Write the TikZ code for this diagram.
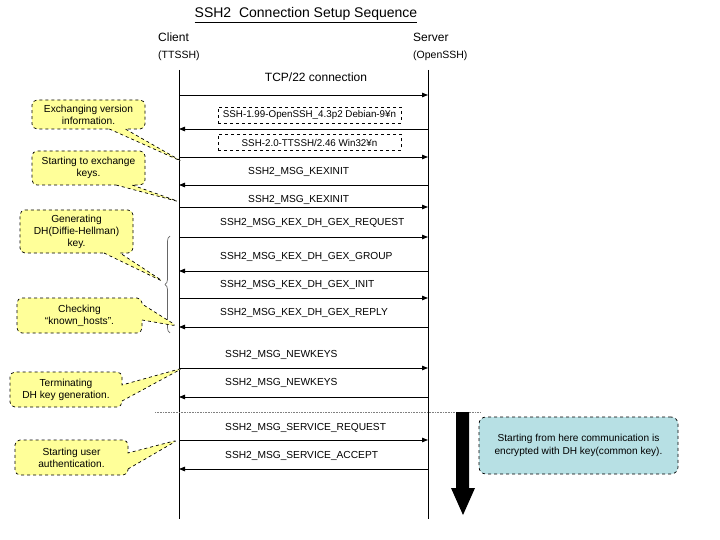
\documentclass[tikz,border=0pt]{standalone}
\usepackage{fontspec}
\setmainfont{Liberation Sans}
\usetikzlibrary{arrows.meta,shapes.callouts,decorations.pathreplacing}
\definecolor{noteyellow}{RGB}{255,255,153}
\definecolor{noteteal}{RGB}{183,224,228}
\begin{document}
\begin{tikzpicture}[x=1pt,y=-1pt]
		\tikzstyle{msg}=[font=\fontsize{10.2}{12}\selectfont,anchor=west,inner sep=0pt]
		\tikzstyle{edge}=[draw, line width=0.8pt, -{Triangle[length=6pt,width=4.5pt]}]
		\tikzstyle{lifeline}=[draw, line width=0.8pt]
		\tikzstyle{strbox}=[draw,dashed,line width=0.6pt,font=\fontsize{9.8}{12}\selectfont,minimum width=183pt,minimum height=16pt,inner sep=0pt]
		\tikzstyle{note}=[rectangle callout,draw,dashed,line width=0.7pt,fill=noteyellow,rounded corners=5pt,align=center,font=\fontsize{10.2}{12}\selectfont,inner sep=0pt,minimum width=113pt,callout pointer width=16pt]
		\useasboundingbox (0,0) rectangle (720,540);
		\begin{scope}
			% heading and lifelines
			\node (title) at (306,15) {\fontsize{14}{16}\selectfont\underline{SSH2\ \ Connection Setup Sequence}};
			\node [anchor=west,inner sep=0pt,font=\fontsize{12}{14}\selectfont] (client) at (158,37) {Client};
			\node [anchor=west,inner sep=0pt,font=\fontsize{10.5}{12}\selectfont] (clientsub) at (158,56) {(TTSSH)};
			\node [anchor=west,inner sep=0pt,font=\fontsize{12}{14}\selectfont] (server) at (413,37) {Server};
			\node [anchor=west,inner sep=0pt,font=\fontsize{10.5}{12}\selectfont] (serversub) at (413,56) {(OpenSSH)};
			\coordinate (ctop) at (179,70);
			\coordinate (cbot) at (179,519);
			\coordinate (stop) at (428,70);
			\coordinate (sbot) at (428,519);
			\path[lifeline] (ctop) -- (cbot);
			\path[lifeline] (stop) -- (sbot);
			\foreach \n/\y in {1/95,2/129,3/157,4/185,5/207,6/237,7/271,8/298,9/327,10/368,11/397,12/440,13/469}{
				\coordinate (c\n) at (179,\y);
				\coordinate (s\n) at (428,\y);
			}
			% messages
			\node [font=\fontsize{12}{14}\selectfont] (m1) at (316,77) {TCP/22 connection};
			\node [strbox] (m2) at (309.5,115) {SSH-1.99-OpenSSH\_4.3p2 Debian-9\textyen n};
			\node [strbox] (m3) at (309.5,142.5) {SSH-2.0-TTSSH/2.46 Win32\textyen n};
			\node [msg] (m4) at (248,172) {SSH2\_MSG\_KEXINIT};
			\node [msg] (m5) at (248,200) {SSH2\_MSG\_KEXINIT};
			\node [msg] (m6) at (220,223) {SSH2\_MSG\_KEX\_DH\_GEX\_REQUEST};
			\node [msg] (m7) at (220,257) {SSH2\_MSG\_KEX\_DH\_GEX\_GROUP};
			\node [msg] (m8) at (220,285) {SSH2\_MSG\_KEX\_DH\_GEX\_INIT};
			\node [msg] (m9) at (220,313) {SSH2\_MSG\_KEX\_DH\_GEX\_REPLY};
			\node [msg] (m10) at (225,355) {SSH2\_MSG\_NEWKEYS};
			\node [msg] (m11) at (225,383) {SSH2\_MSG\_NEWKEYS};
			\node [msg] (m12) at (225,428) {SSH2\_MSG\_SERVICE\_REQUEST};
			\node [msg] (m13) at (225,456) {SSH2\_MSG\_SERVICE\_ACCEPT};
			\path[edge] (c1) -- (s1);
			\path[edge] (s2) -- (c2);
			\path[edge] (c3) -- (s3);
			\path[edge] (s4) -- (c4);
			\path[edge] (c5) -- (s5);
			\path[edge] (c6) -- (s6);
			\path[edge] (s7) -- (c7);
			\path[edge] (c8) -- (s8);
			\path[edge] (s9) -- (c9);
			\path[edge] (c10) -- (s10);
			\path[edge] (s11) -- (c11);
			\path[edge] (c12) -- (s12);
			\path[edge] (s13) -- (c13);
			% brace over the DH exchange
			\coordinate (bbot) at (170,333);
			\coordinate (btop) at (170,236);
			\draw[black!60,line width=0.7pt,decorate,decoration={brace,amplitude=5pt}] (bbot) -- (btop);
			% encrypted part
			\coordinate (sepl) at (155,412);
			\coordinate (sepr) at (480,412);
			\draw[gray,densely dotted,line width=0.6pt] (sepl) -- (sepr);
			\fill (456,412) -- (469,412) -- (469,488) -- (475,488) -- (463,515) -- (451,488) -- (456,488) -- cycle;
			\node [draw,dashed,line width=0.7pt,fill=noteteal,rounded corners=7pt,align=center,font=\fontsize{10.1}{13}\selectfont,minimum width=199pt,minimum height=57pt,inner sep=0pt] (enc) at (578.5,445.5) {Starting from here communication is\\encrypted with DH key(common key).};
			% notes
			\coordinate (p1) at (183,162);
			\coordinate (p2) at (180,202);
			\coordinate (p3) at (164,282);
			\coordinate (p4) at (177,326);
			\coordinate (p5) at (183,368);
			\coordinate (p6) at (178,440);
			\node [note,minimum height=29pt,callout absolute pointer={(p1)}] (n1) at (88.5,114.5) {Exchanging version\\information.};
			\node [note,minimum height=34pt,callout absolute pointer={(p2)}] (n2) at (88.5,168) {Starting to exchange\\keys.};
			\node [note,minimum height=43pt,callout absolute pointer={(p3)}] (n3) at (76.5,231.5) {Generating\\DH(Diffie-Hellman)\\key.};
			\node [note,minimum width=125pt,minimum height=35pt,callout absolute pointer={(p4)}] (n4) at (79.5,315.5) {Checking\\``known\_hosts''.};
			\node [note,minimum width=112pt,minimum height=35pt,callout absolute pointer={(p5)}] (n5) at (66,389.5) {Terminating\\DH key generation.};
			\node [note,minimum height=35pt,callout absolute pointer={(p6)}] (n6) at (71.5,457.5) {Starting user\\authentication.};
		\end{scope}
\end{tikzpicture}
\end{document}
